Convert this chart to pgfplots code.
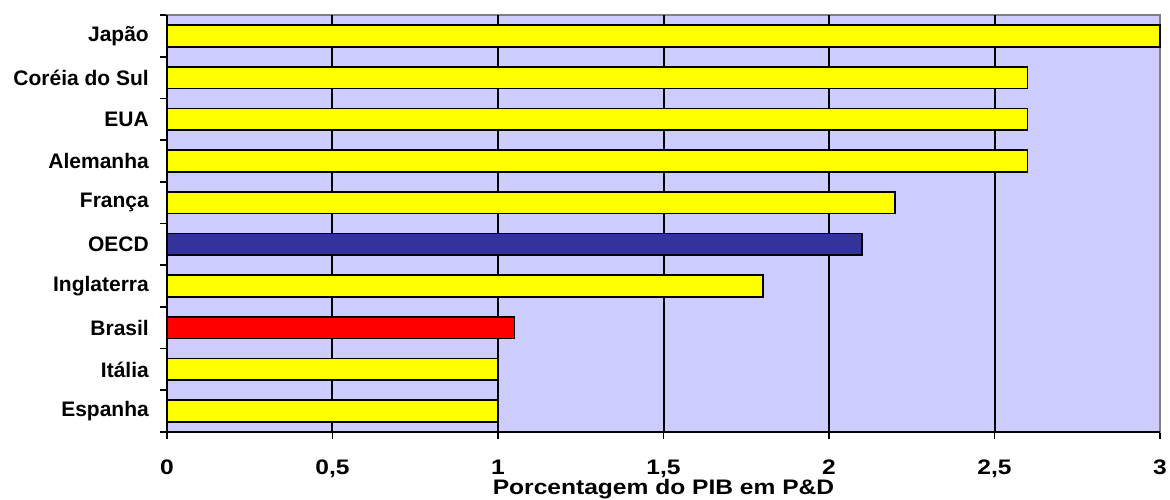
\documentclass[border=0pt]{standalone}
\usepackage{fontspec}
\setmainfont{Liberation Sans}
\usepackage{pgfplots}
\pgfplotsset{compat=1.18}
\definecolor{lav}{RGB}{204,204,255}
\definecolor{ylw}{RGB}{255,255,0}
\definecolor{navy}{RGB}{51,51,153}
\definecolor{rd}{RGB}{255,0,0}
\begin{document}
\begin{tikzpicture}
\begin{axis}[
  name=ax,
  scale only axis, width=993pt, height=417pt,
  xbar, bar width=0.52,
  every axis plot/.append style={bar shift=0pt, draw=black, line width=1.7pt},
  xmin=0, xmax=3, ymin=-0.5, ymax=9.5,
  axis background/.style={fill=lav},
  axis line style={draw={rgb,255:red,128;green,128;blue,128}, line width=1.5pt},
  xtick={0,0.5,1,1.5,2,2.5,3},
  xticklabels={0,{0,5},1,{1,5},2,{2,5},3},
  ytick={0,...,9},
  yticklabels={Espanha,Itália,Brasil,Inglaterra,OECD,França,Alemanha,EUA,Coréia do Sul,Japão},
  minor ytick={-0.5,0.5,...,9.5},
  tick pos=left, tick align=outside,
  major tick length=7pt, minor tick length=7pt,
  major y tick style={draw=none},
  minor y tick style={draw=black, line width=1.7pt},
  major x tick style={draw=black, line width=1.7pt},
  yticklabel style={font=\fontsize{21}{24}\selectfont\bfseries, anchor=east, inner sep=0pt, xshift=-11pt},
  xticklabel style={font=\fontsize{21}{24}\selectfont\bfseries, anchor=base, inner sep=0pt, xscale=1.17},
  xticklabel shift=0pt,
  every x tick label/.append style={yshift=-35pt},
  xlabel={Porcentagem do PIB em P\&D},
  xlabel style={font=\fontsize{21}{24}\selectfont\bfseries, at={(axis description cs:0.5,0)}, anchor=base, inner sep=0pt, yshift=-62pt, xscale=1.17},
  clip=false,
]
\foreach \g in {0.5,1,1.5,2,2.5} {\edef\tmp{\noexpand\draw[black, line width=2pt] (axis cs:\g,-0.5) -- (axis cs:\g,9.5);}\tmp}
\addplot[fill=ylw] coordinates {(1,0) (1,1) (1.8,3) (2.2,5) (2.6,6) (2.6,7) (2.6,8) (3,9)};
\addplot[fill=rd] coordinates {(1.05,2)};
\addplot[fill=navy] coordinates {(2.1,4)};
\draw[black, line width=2pt] (rel axis cs:0,1) -- (rel axis cs:0,0) -- (rel axis cs:1,0);
\end{axis}
\pgfresetboundingbox
\path ([shift={(-167pt,-67pt)}]ax.south west) rectangle ([shift={(10pt,15pt)}]ax.north east);
\end{tikzpicture}
\end{document}
